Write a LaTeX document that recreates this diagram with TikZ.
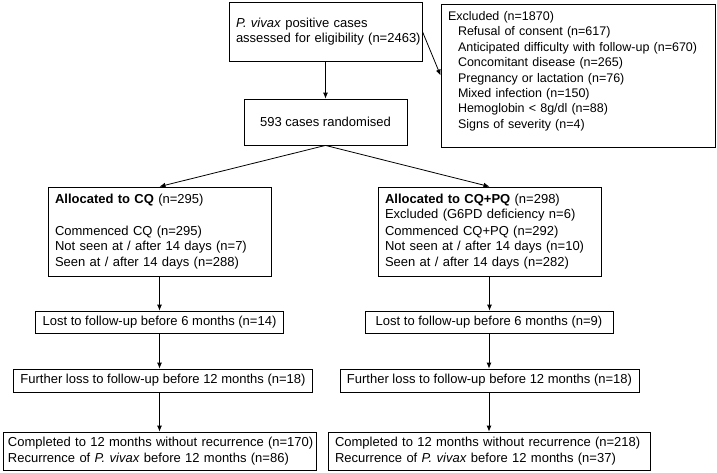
\documentclass[tikz,border=0pt]{standalone}
\usepackage{fontspec}
\setmainfont{Liberation Sans}
\usetikzlibrary{arrows.meta}

\begin{document}
\begin{tikzpicture}[x=1pt,y=1pt,yscale=-1,xscale=1,
  every node/.style={font=\fontsize{13}{15.5}\selectfont},
  flowbox/.style={draw,line width=0.8pt,inner xsep=7pt,inner ysep=0pt},
  flowarrow/.style={line width=0.8pt,-{Latex[length=6pt,width=5pt]}}]
\useasboundingbox (0,0) rectangle (717,472);
% top of the chart
\draw (325.5,31.5) node [flowbox,text width=179pt,minimum height=59pt,align=left] (elig) {\mbox{\textit{P. vivax} positive cases}\\\mbox{assessed for eligibility (n=2463)}};
\draw (325.5,122) node [flowbox,minimum width=163pt,minimum height=46pt,align=center] (rand) {593 cases randomised};
\draw (578,75.5) node [flowbox,text width=260pt,minimum height=143pt,align=left,font=\fontsize{12.5}{15.4}\selectfont] (excl) {Excluded (n=1870)\\
\hspace*{10pt}Refusal of consent (n=617)\\
\hspace*{10pt}\mbox{Anticipated difficulty with follow-up (n=670)}\\
\hspace*{10pt}Concomitant disease (n=265)\\
\hspace*{10pt}Pregnancy or lactation (n=76)\\
\hspace*{10pt}Mixed infection (n=150)\\
\hspace*{10pt}Hemoglobin {\textless} 8g/dl (n=88)\\
\hspace*{10pt}Signs of severity (n=4)\\[-4pt]\mbox{}};
% the two arms
\draw (159.5,231.5) node [flowbox,text width=209pt,minimum height=89pt,align=left] (cq) {\textbf{Allocated to CQ} (n=295)\\[16pt]
Commenced CQ (n=295)\\
Not seen at / after 14 days (n=7)\\
Seen at / after 14 days (n=288)};
\draw (489.5,231.5) node [flowbox,text width=209pt,minimum height=89pt,align=left] (cqpq) {\textbf{Allocated to CQ+PQ} (n=298)\\
Excluded (G6PD deficiency n=6)\\[1pt]
Commenced CQ+PQ (n=292)\\
Not seen at / after 14 days (n=10)\\
Seen at / after 14 days (n=282)};
\draw (159.5,322) node [flowbox,minimum width=247pt,minimum height=22pt] (lostcq) {Lost to follow-up before 6 months (n=14)};
\draw (489,322) node [flowbox,minimum width=248pt,minimum height=22pt] (lostpq) {Lost to follow-up before 6 months (n=9)};
\draw (163,380.5) node [flowbox,minimum width=296pt,minimum height=23pt] (furcq) {Further loss to follow-up before 12 months (n=18)};
\draw (489.5,380.5) node [flowbox,minimum width=299pt,minimum height=23pt] (furpq) {Further loss to follow-up before 12 months (n=18)};
\draw (159.5,451) node [flowbox,text width=303pt,minimum height=38pt,align=left,inner xsep=5pt] (compcq) {\mbox{Completed to 12 months without recurrence (n=170)}\\
Recurrence of \textit{P. vivax} before 12 months (n=86)};
\draw (489,451) node [flowbox,text width=308pt,minimum height=38pt,align=left] (comppq) {\mbox{Completed to 12 months without recurrence (n=218)}\\
Recurrence of \textit{P. vivax} before 12 months (n=37)};
% connectors
\draw [flowarrow] (elig) -- (rand);
\draw [flowarrow] (elig.east) -- (excl.west);
\draw [flowarrow] (rand.south) -- (cq.north);
\draw [flowarrow] (rand.south) -- (cqpq.north);
\draw [flowarrow] (cq.south) -- (cq.south |- lostcq.north);
\draw [flowarrow] (lostcq.south) -- (lostcq.south |- furcq.north);
\draw [flowarrow] (lostcq.south |- furcq.south) -- (lostcq.south |- compcq.north);
\draw [flowarrow] (cqpq.south) -- (cqpq.south |- lostpq.north);
\draw [flowarrow] (lostpq.south) -- (lostpq.south |- furpq.north);
\draw [flowarrow] (lostpq.south |- furpq.south) -- (lostpq.south |- comppq.north);
\end{tikzpicture}
\end{document}
